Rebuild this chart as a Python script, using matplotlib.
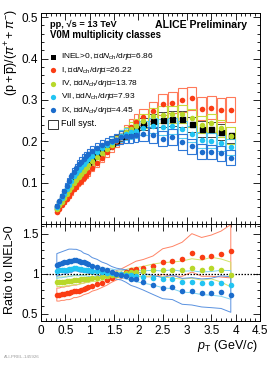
import numpy as np
import matplotlib
matplotlib.use("Agg")
import matplotlib.pyplot as plt
from matplotlib.ticker import MultipleLocator, FixedLocator, FuncFormatter
from matplotlib.patches import Rectangle

plt.rcParams['font.family'] = ['Liberation Sans', 'DejaVu Sans']
plt.rcParams['mathtext.fontset'] = 'custom'
plt.rcParams['mathtext.rm'] = 'Liberation Sans'
plt.rcParams['mathtext.it'] = 'Liberation Sans:italic'
plt.rcParams['mathtext.bf'] = 'Liberation Sans:bold'

# ---------------- data ----------------
pt = [0.325, 0.375, 0.425, 0.475, 0.525, 0.575, 0.625, 0.675, 0.725, 0.775,
      0.825, 0.875, 0.925, 0.975,
      1.05, 1.15, 1.25, 1.35, 1.45, 1.55, 1.65, 1.75, 1.85, 1.95,
      2.1, 2.3, 2.5, 2.7, 2.9, 3.1, 3.3, 3.5, 3.7, 3.9]
pt_width = [0.05] * 14 + [0.1] * 10 + [0.2] * 10

inel = [0.040, 0.050, 0.060, 0.070, 0.080, 0.090, 0.099, 0.108, 0.116, 0.124,
        0.131, 0.138, 0.145, 0.151,
        0.160, 0.170, 0.179, 0.188, 0.196, 0.204, 0.212, 0.219, 0.226, 0.232,
        0.242, 0.250, 0.252, 0.254, 0.254, 0.241, 0.230, 0.229, 0.222, 0.216]

ratio_I = [0.74, 0.74, 0.75, 0.75, 0.76, 0.76, 0.77, 0.78, 0.78, 0.79,
           0.80, 0.81, 0.82, 0.83,
           0.85, 0.87, 0.89, 0.92, 0.95, 0.98, 1.00, 1.02, 1.04, 1.06,
           1.07, 1.09, 1.15, 1.155, 1.18, 1.26, 1.21, 1.225, 1.245, 1.28]
ratio_IV = [0.90, 0.90, 0.90, 0.90, 0.91, 0.91, 0.91, 0.92, 0.92, 0.92,
            0.93, 0.93, 0.94, 0.94,
            0.95, 0.95, 0.96, 0.97, 0.98, 0.99, 1.00, 1.01, 1.02, 1.02,
            1.03, 1.045, 1.05, 1.045, 1.045, 1.065, 1.045, 1.07, 1.04, 0.99]
ratio_VII = [1.03, 1.04, 1.04, 1.05, 1.05, 1.06, 1.06, 1.07, 1.07, 1.06,
             1.06, 1.05, 1.05, 1.04,
             1.03, 1.03, 1.02, 1.01, 1.01, 1.00, 1.00, 0.99, 0.98, 0.97,
             0.96, 0.95, 0.93, 0.93, 0.90, 0.90, 0.88, 0.88, 0.88, 0.86]
ratio_IX = [1.11, 1.12, 1.13, 1.14, 1.15, 1.16, 1.16, 1.17, 1.17, 1.16,
            1.15, 1.14, 1.13, 1.12,
            1.10, 1.08, 1.06, 1.04, 1.02, 1.00, 0.99, 0.97, 0.94, 0.93,
            0.90, 0.86, 0.82, 0.83, 0.78, 0.78, 0.76, 0.76, 0.77, 0.74]

# relative systematic uncertainties
sys_rel_top = [0.06] * 14 + [0.06, 0.06, 0.06, 0.06, 0.06, 0.06, 0.065, 0.065, 0.07, 0.07,
                             0.07, 0.075, 0.08, 0.08, 0.085, 0.085, 0.09, 0.09, 0.095, 0.10]
sys_rel_ratio = [0.11, 0.11, 0.11, 0.11, 0.11, 0.11, 0.11, 0.10, 0.10, 0.10,
                 0.10, 0.09, 0.09, 0.09,
                 0.08, 0.08, 0.07, 0.07, 0.06, 0.06, 0.06, 0.07, 0.08, 0.09,
                 0.10, 0.12, 0.14, 0.16, 0.18, 0.19, 0.20, 0.21, 0.23, 0.26]

class_names = ['I', 'IV', 'VII', 'IX']
class_dndeta = ['26.22', '13.78', '7.93', '4.45']
class_ratios = [ratio_I, ratio_IV, ratio_VII, ratio_IX]
class_sys_scale = [1.0, 0.6, 0.8, 1.15]
class_colors = ['#fa3c14', '#b8d82a', '#22c4f2', '#1b6ccc']
class_box_colors = ['#ff7a5a', '#c9dc3c', '#55ccf2', '#2f78d6']
class_band_colors = ['#ff8466', '#d2e46a', '#7fd4f2', '#5a92e0']

# ---------------- figure ----------------
W, H = 270, 365
fig = plt.figure(figsize=(W / 100, H / 100), dpi=100)

def frac_axes(x0, x1, y0, y1):
    return fig.add_axes([x0 / W, 1 - y1 / H, (x1 - x0) / W, (y1 - y0) / H])

ax = frac_axes(41, 260, 13, 224)
axr = frac_axes(41, 260, 224, 321)

pt_a = np.array(pt)
w_a = np.array(pt_width)
box_w = np.maximum(w_a * 0.9, 0.07)
inel_a = np.array(inel)
srt = np.array(sys_rel_top)

# systematic boxes
ax.bar(pt_a, 2 * inel_a * srt * 0.9, bottom=inel_a * (1 - srt * 0.9), width=box_w,
       fill=False, edgecolor='#444444', linewidth=0.7, zorder=2)
for r, bc, sc in zip(class_ratios, class_box_colors, class_sys_scale):
    vals = inel_a * np.array(r)
    err = vals * srt * (0.8 + 0.3 * sc)
    ax.bar(pt_a, 2 * err, bottom=vals - err, width=box_w, fill=False,
           edgecolor=bc, linewidth=0.8, zorder=2)

# markers
ax.plot(pt_a, inel_a, 's', color='black', markersize=3.6, zorder=4, linestyle='none')
for r, c in zip(class_ratios, class_colors):
    ax.plot(pt_a, inel_a * np.array(r), 'o', color=c, markersize=4.0, zorder=4,
            markeredgewidth=0, linestyle='none')

ax.set_xlim(0, 4.5)
ax.set_ylim(0, 0.51)

# ratio panel
srr = np.array(sys_rel_ratio)
for r, c, bc, sc in zip(class_ratios, class_colors, class_band_colors, class_sys_scale):
    r_a = np.array(r)
    axr.fill_between(pt_a, r_a * (1 - srr * sc), r_a * (1 + srr * sc), facecolor='none',
                     edgecolor=bc, linewidth=0.7, zorder=2)
for r, c in zip(class_ratios, class_colors):
    axr.plot(pt_a, r, 'o', color=c, markersize=4.0, markeredgewidth=0, zorder=4,
             linestyle='none')
axr.hlines(1.0, 0.1, 4.5, colors='black', linestyles=(0, (1.2, 1.2)), linewidth=0.9, zorder=3)
axr.set_xlim(0, 4.5)
axr.set_ylim(0.41, 1.62)

# ---------------- axes styling ----------------
for a in (ax, axr):
    a.tick_params(which='both', direction='in', top=True, right=True,
                  labelsize=8.5, width=0.6, pad=2)
    a.tick_params(which='major', length=5)
    a.tick_params(which='minor', length=2.5)
    a.xaxis.set_major_locator(MultipleLocator(0.5))
    a.xaxis.set_minor_locator(MultipleLocator(0.1))
    for s in a.spines.values():
        s.set_linewidth(0.7)

ax.yaxis.set_major_locator(FixedLocator([0.1, 0.2, 0.3, 0.4, 0.5]))
ax.yaxis.set_minor_locator(MultipleLocator(0.02))
ax.yaxis.set_major_formatter(FuncFormatter(lambda v, p: '%g' % v))
ax.tick_params(labelbottom=False)

axr.yaxis.set_major_locator(FixedLocator([0.5, 1.0, 1.5]))
axr.yaxis.set_minor_locator(MultipleLocator(0.1))
axr.yaxis.set_major_formatter(FuncFormatter(lambda v, p: '%g' % v))
axr.xaxis.set_major_formatter(FuncFormatter(lambda v, p: '%g' % v))
axr.tick_params(axis='x', pad=3)

# axis titles
fig.text(11 / W, 1 - 52 / H, r'$(\mathrm{p}+\overline{\mathrm{p}})/(\pi^{+}+\pi^{-})$',
         rotation=90, ha='center', va='center', fontsize=9)
fig.text(10 / W, 1 - 270 / H, 'Ratio to INEL>0', rotation=90, ha='center', va='center',
         fontsize=9)
fig.text(258 / W, 1 - 346 / H, r'$p_{\mathrm{T}}$ (GeV/$c$)', ha='right', va='center',
         fontsize=9)
fig.text(4 / W, 1 - 357 / H, 'ALI-PREL-145926', ha='left', va='center', fontsize=3.2,
         color='#999999')

# header texts
fig.text(50 / W, 1 - 24 / H, 'pp, \u221as = 13 TeV', ha='left', va='center',
         fontsize=6.7, fontweight='bold')
fig.text(50 / W, 1 - 35.5 / H, 'V0M multiplicity classes', ha='left', va='center',
         fontsize=6.9, fontweight='bold')
fig.text(247 / W, 1 - 25 / H, 'ALICE Preliminary', ha='right', va='center',
         fontsize=7.6, fontweight='bold')

# legend (manual)
def ax_y(ypx):
    return (224 - ypx) / 211

def ax_x(xpx):
    return (xpx - 41) / 219

mult = '\u27e8d$N_{\\mathrm{ch}}$/d$\\eta$\u27e9='
leg_labels = ['INEL>0, ' + mult + '6.86'] + \
    [n + ', ' + mult + d for n, d in zip(class_names, class_dndeta)]
leg_markers = ['s', 'o', 'o', 'o', 'o']
leg_colors = ['black'] + class_colors
rows = [56.7, 70.1, 83.5, 96.9, 110.3]
for lab, m, c, yy in zip(leg_labels, leg_markers, leg_colors, rows):
    ax.plot([ax_x(52.7)], [ax_y(yy)], m, color=c, markersize=3.8 if m == 'o' else 3.6,
            markeredgewidth=0, transform=ax.transAxes, clip_on=False, zorder=5)
    ax.text(ax_x(61), ax_y(yy), lab, transform=ax.transAxes, ha='left', va='center',
            fontsize=6.0)
ax.add_patch(Rectangle((ax_x(47.7), ax_y(128.5)), 10.6 / 219, 9 / 211, fill=False,
                       edgecolor='#333333', linewidth=0.7, transform=ax.transAxes))
ax.text(ax_x(61), ax_y(123.7), 'Full syst.', transform=ax.transAxes, ha='left',
        va='center', fontsize=6.5)

fig.savefig('out.png', dpi=100)
